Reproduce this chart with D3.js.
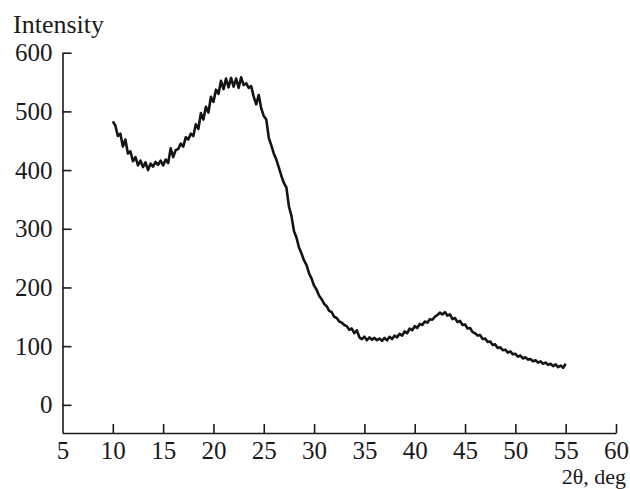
<!DOCTYPE html>
<html>
<head>
<meta charset="utf-8">
<script src="https://cdn.jsdelivr.net/npm/d3@7"></script>
<style>
  html, body { margin: 0; padding: 0; background: #fff; }
  svg { display: block; }
  text { font-family: "Liberation Serif", "Times New Roman", serif; fill: #1a1a1a; }
</style>
</head>
<body>
<svg id="chart" width="630" height="489"></svg>
<script>
const xTicks = [5, 10, 15, 20, 25, 30, 35, 40, 45, 50, 55, 60];
const yTicks = [0, 100, 200, 300, 400, 500, 600];
const yLabel = "Intensity";
const xLabel = "2θ, deg";

const twoTheta = [
  10.00,10.25,10.50,10.75,11.00,11.25,11.50,11.75,12.00,12.25,12.50,12.75,
  13.00,13.25,13.50,13.75,14.00,14.25,14.50,14.75,15.00,15.25,15.50,15.75,
  16.00,16.25,16.50,16.75,17.00,17.25,17.50,17.75,18.00,18.25,18.50,18.75,
  19.00,19.25,19.50,19.75,20.00,20.25,20.50,20.75,21.00,21.25,21.50,21.75,
  22.00,22.25,22.50,22.75,23.00,23.25,23.50,23.75,24.00,24.25,24.50,24.75,
  25.00,25.25,25.50,25.75,26.00,26.25,26.50,26.75,27.00,27.25,27.50,27.75,
  28.00,28.25,28.50,28.75,29.00,29.25,29.50,29.75,30.00,30.25,30.50,30.75,
  31.00,31.25,31.50,31.75,32.00,32.25,32.50,32.75,33.00,33.25,33.50,33.75,
  34.00,34.25,34.50,34.75,35.00,35.25,35.50,35.75,36.00,36.25,36.50,36.75,
  37.00,37.25,37.50,37.75,38.00,38.25,38.50,38.75,39.00,39.25,39.50,39.75,
  40.00,40.25,40.50,40.75,41.00,41.25,41.50,41.75,42.00,42.25,42.50,42.75,
  43.00,43.25,43.50,43.75,44.00,44.25,44.50,44.75,45.00,45.25,45.50,45.75,
  46.00,46.25,46.50,46.75,47.00,47.25,47.50,47.75,48.00,48.25,48.50,48.75,
  49.00,49.25,49.50,49.75,50.00,50.25,50.50,50.75,51.00,51.25,51.50,51.75,
  52.00,52.25,52.50,52.75,53.00,53.25,53.50,53.75,54.00,54.25,54.50,54.75,
  55.00
];
const intensity = [
  483,476,458,462,440,452,428,432,415,422,408,416,
  405,413,400,411,406,414,409,416,408,418,412,437,
  422,434,436,445,440,456,452,462,458,478,470,497,
  486,508,498,525,516,537,530,552,538,556,541,557,
  542,556,540,558,545,548,540,543,525,512,528,505,
  492,486,455,442,428,418,404,390,378,370,338,322,
  296,285,268,258,246,238,224,215,203,196,186,180,
  172,168,160,158,150,148,142,140,136,134,128,130,
  122,127,115,112,116,110,115,111,114,110,113,109,
  114,110,116,112,118,115,121,118,125,122,130,127,
  134,131,138,136,142,140,146,145,150,153,157,154,
  158,152,154,146,148,141,143,136,137,130,131,124,
  122,118,119,112,113,107,108,102,103,97,98,93,
  94,89,91,86,87,82,84,79,81,77,78,74,
  76,72,74,70,72,68,70,66,69,64,67,63,
  70
];

const svg = d3.select("#chart");
const x = d3.scaleLinear().domain([5, 60]).range([62.5, 616]);
const y = d3.scaleLinear().domain([-48, 600]).range([433, 52.7]);

const fontSize = 25;

// x axis
const gx = svg.append("g").attr("transform", `translate(0,${y(-48)})`)
  .call(d3.axisBottom(x).tickValues(xTicks).tickSizeInner(-9).tickSizeOuter(0).tickPadding(8));
// y axis
const gy = svg.append("g").attr("transform", `translate(${x(5)},0)`)
  .call(d3.axisLeft(y).tickValues(yTicks).tickSizeInner(-9).tickSizeOuter(0).tickPadding(10));

[gx, gy].forEach(g => {
  g.select(".domain").attr("stroke", "#1a1a1a").attr("stroke-width", 1.6);
  g.selectAll(".tick line").attr("stroke", "#1a1a1a").attr("stroke-width", 1.6);
  g.selectAll(".tick text")
    .attr("font-family", "'Liberation Serif', 'Times New Roman', serif")
    .attr("font-size", fontSize)
    .attr("fill", "#1a1a1a");
});
gx.selectAll(".tick").filter(d => d === 5).select("line").remove();

// axis titles
svg.append("text").attr("x", 626).attr("y", 483.5)
  .attr("text-anchor", "end").attr("font-size", 22).text(xLabel);
svg.append("text").attr("x", 13).attr("y", 33)
  .attr("font-size", 26).text(yLabel);

// data line
const pts = twoTheta.map((t, i) => [t, intensity[i]]);
const line = d3.line().x(d => x(d[0])).y(d => y(d[1]));
svg.append("path").datum(pts)
  .attr("d", line)
  .attr("fill", "none")
  .attr("stroke", "#141414")
  .attr("stroke-width", 2.6)
  .attr("stroke-linejoin", "round");
</script>
</body>
</html>
